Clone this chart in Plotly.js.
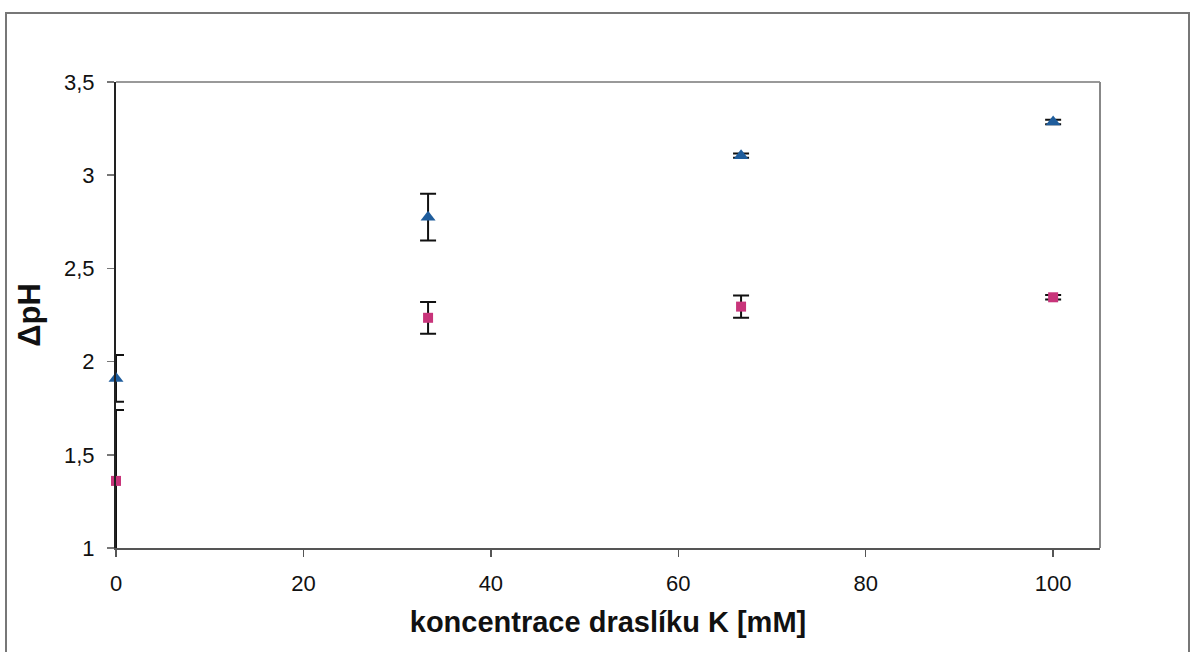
<!DOCTYPE html>
<html>
<head>
<meta charset="utf-8">
<script src="https://cdn.plot.ly/plotly-3.0.1.min.js"></script>
<style>html,body{margin:0;padding:0;background:#fff;}#chart{width:1191px;height:652px;}</style>
</head>
<body>
<div id="chart"></div>
<script>
const concentrations = [0, 33.3, 66.7, 100];
const blueValues = [1.91, 2.775, 3.105, 3.285];
const blueErrors = [0.125, 0.125, 0.012, 0.012];
const pinkValues = [1.36, 2.235, 2.295, 2.345];
const pinkErrors = [0.38, 0.085, 0.06, 0.012];
const yTicks = [1, 1.5, 2, 2.5, 3, 3.5];
const yTickLabels = ["1", "1,5", "2", "2,5", "3", "3,5"];
const xTicks = [0, 20, 40, 60, 80, 100];

const font = "Liberation Sans, Arial, sans-serif";
const px = v => (v - 116) / 984;
const py = v => (548 - v) / 466;

const traces = [
  {
    x: concentrations, y: pinkValues, type: "scatter", mode: "markers",
    cliponaxis: false,
    marker: {symbol: "square", size: 10, color: "#c8347a"},
    error_y: {type: "data", array: pinkErrors, visible: true, color: "#111", thickness: 2, width: 8}
  },
  {
    x: concentrations, y: blueValues, type: "scatter", mode: "markers",
    cliponaxis: false,
    marker: {symbol: "triangle-up", size: 13, color: "#1f5d9c"},
    error_y: {type: "data", array: blueErrors, visible: true, color: "#111", thickness: 2, width: 8}
  }
];

const layout = {
  width: 1191, height: 652,
  margin: {l: 116, r: 91, t: 82, b: 104},
  paper_bgcolor: "#fff", plot_bgcolor: "#fff",
  showlegend: false,
  separators: ", ",
  font: {family: font, color: "#111", size: 22},
  xaxis: {
    range: [0, 105], tickvals: xTicks, ticktext: xTicks.map(String),
    showgrid: false, zeroline: false,
    showline: true, linecolor: "#555", linewidth: 2,
    ticks: "outside", ticklen: 7, tickcolor: "#555", tickwidth: 1.5,
    ticklabelstandoff: 8,
    tickfont: {size: 22, family: font, color: "#111"},
    title: {text: "koncentrace draslíku K [mM]", font: {size: 29, family: font, color: "#111", weight: "bold"}, standoff: 16}
  },
  yaxis: {
    range: [1, 3.5], tickvals: yTicks, ticktext: yTickLabels,
    showgrid: false, zeroline: false,
    showline: true, linecolor: "#222", linewidth: 2,
    ticks: "outside", ticklen: 7, tickcolor: "#777", tickwidth: 1.5,
    ticklabelstandoff: 8,
    tickfont: {size: 22, family: font, color: "#111"},
    title: {text: "ΔpH", font: {size: 31, family: font, color: "#111", weight: "bold"}, standoff: 14}
  },
  shapes: [
    {type: "line", xref: "paper", yref: "paper", x0: 0, x1: 1, y0: 1, y1: 1, line: {color: "#999", width: 2}},
    {type: "line", xref: "paper", yref: "paper", x0: 1, x1: 1, y0: 0, y1: 1, line: {color: "#888", width: 2}},
    {type: "rect", xref: "paper", yref: "paper", x0: px(6), x1: px(1189), y0: py(13), y1: py(660),
     line: {color: "#777", width: 2}, fillcolor: "rgba(0,0,0,0)", layer: "below"}
  ]
};

Plotly.newPlot("chart", traces, layout, {displayModeBar: false, staticPlot: true});
</script>
</body>
</html>
